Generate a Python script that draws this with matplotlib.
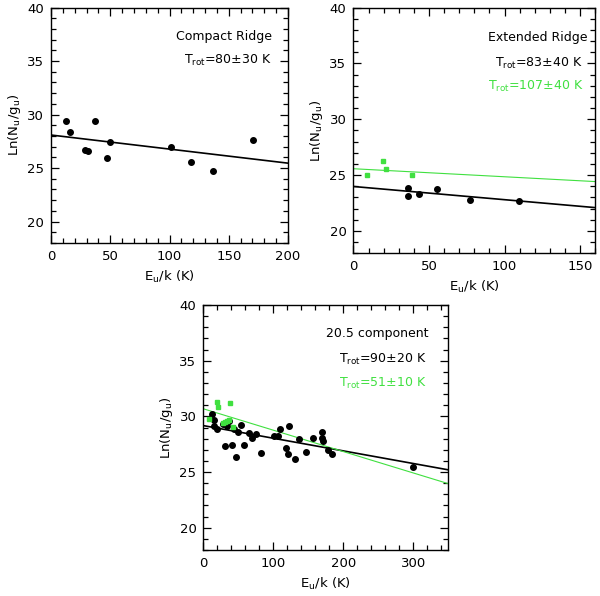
import matplotlib
matplotlib.use("Agg")
import matplotlib.pyplot as plt
from matplotlib.ticker import MultipleLocator

# --- Compact Ridge ---
cr_e = [12.6, 15.7, 28.9, 31.2, 37.1, 47.5, 49.4, 101.4, 118.5, 137.0, 170.5]
cr_ln = [29.4, 28.34, 26.67, 26.6, 29.4, 25.98, 27.4, 26.98, 25.6, 24.74, 27.66]
cr_fit = [28.09, 25.46]  # line value at E=0 and E=200

# --- Extended Ridge ---
er_e = [36.0, 36.4, 43.7, 55.6, 77.4, 109.6]
er_ln = [23.84, 23.11, 23.32, 23.78, 22.8, 22.66]
er_fit = [23.98, 22.09]  # E=0, E=160
er_green_e = [9.3, 19.5, 21.4, 39.0]
er_green_ln = [25.0, 26.24, 25.56, 25.02]
er_green_fit = [25.57, 24.42]  # E=0, E=160

# --- 20.5 component ---
c20_e = [12.8, 15.2, 15.2, 19.0, 28.0, 30.7, 33.2, 36.0, 41.1, 43.9, 47.3, 49.6,
         54.4, 58.1, 64.8, 69.5, 75.7, 81.8, 100.6, 106.3, 109.9, 118.2, 120.4,
         121.9, 131.4, 136.0, 146.5, 156.9, 169.2, 170.0, 171.0, 178.6, 183.4, 300.0]
c20_ln = [30.2, 29.64, 29.18, 28.88, 29.3, 27.38, 29.17, 29.6, 27.46, 28.85, 26.36,
          28.56, 29.26, 27.43, 28.49, 28.06, 28.46, 26.75, 28.28, 28.26, 28.86,
          27.2, 26.66, 29.16, 26.17, 27.96, 26.84, 28.04, 28.61, 28.1, 27.79,
          26.97, 26.62, 25.41]
c20_fit = [29.17, 25.2]  # E=0, E=350
c20_green_e = [8.5, 19.0, 21.3, 37.8, 27.5, 30.7, 34.0, 36.4, 42.5]
c20_green_ln = [29.77, 31.27, 30.88, 31.22, 29.4, 29.5, 29.58, 29.68, 29.06]
c20_green_fit = [30.68, 23.96]  # E=0, E=350

GREEN = "#40e040"
FS = 9
TICK_FS = 9.5

fig = plt.figure(figsize=(6.0, 5.96), dpi=100)


def style_axes(ax, xmax, xmajor, xminor):
    ax.set_xlim(0, xmax)
    ax.set_ylim(18, 40)
    ax.xaxis.set_major_locator(MultipleLocator(xmajor))
    ax.xaxis.set_minor_locator(MultipleLocator(xminor))
    ax.yaxis.set_minor_locator(MultipleLocator(1))
    ax.set_yticks([20, 25, 30, 35, 40])
    ax.tick_params(which="both", direction="in", top=True, right=True,
                   labelsize=TICK_FS, width=0.9)
    ax.tick_params(which="major", length=6, pad=5)
    ax.tick_params(which="minor", length=3.5)
    for s in ax.spines.values():
        s.set_linewidth(1.0)
    ax.set_xlabel("E$_\\mathregular{u}$/k (K)", fontsize=FS + 0.5, labelpad=4)
    ax.set_ylabel("Ln(N$_\\mathregular{u}$/g$_\\mathregular{u}$)", fontsize=FS + 0.5,
                  labelpad=3)


# Panel 1: Compact Ridge
ax1 = fig.add_axes([0.085, 0.5923, 0.395, 0.395])
style_axes(ax1, 200, 50, 10)
ax1.plot([0, 200], cr_fit, color="black", lw=1.2)
ax1.plot(cr_e, cr_ln, "o", color="black", ms=4.0)
ax1.text(0.932, 0.879, "Compact Ridge", transform=ax1.transAxes,
         ha="right", va="center", fontsize=FS)
ax1.text(0.932, 0.774, "T$_\\mathregular{rot}$=80±30 K", transform=ax1.transAxes,
         ha="right", va="center", fontsize=FS)

# Panel 2: Extended Ridge
ax2 = fig.add_axes([0.589, 0.575, 0.403, 0.4124])
style_axes(ax2, 160, 50, 10)
ax2.plot([0, 160], er_fit, color="black", lw=1.2)
ax2.plot([0, 160], er_green_fit, color=GREEN, lw=0.8)
ax2.plot(er_e, er_ln, "o", color="black", ms=4.0)
ax2.plot(er_green_e, er_green_ln, "s", color=GREEN, ms=3.2)
ax2.text(0.968, 0.879, "Extended Ridge", transform=ax2.transAxes,
         ha="right", va="center", fontsize=FS)
ax2.text(0.95, 0.773, "T$_\\mathregular{rot}$=83±40 K", transform=ax2.transAxes,
         ha="right", va="center", fontsize=FS)
ax2.text(0.952, 0.68, "T$_\\mathregular{rot}$=107±40 K", transform=ax2.transAxes,
         ha="right", va="center", fontsize=FS, color=GREEN)

# Panel 3: 20.5 component
ax3 = fig.add_axes([0.339, 0.0772, 0.408, 0.411])
style_axes(ax3, 350, 100, 20)
ax3.plot([0, 350], c20_fit, color="black", lw=1.2)
ax3.plot([0, 350], c20_green_fit, color=GREEN, lw=0.8)
ax3.plot(c20_e, c20_ln, "o", color="black", ms=4.0)
ax3.plot(c20_green_e, c20_green_ln, "s", color=GREEN, ms=3.2)
ax3.text(0.919, 0.884, "20.5 component", transform=ax3.transAxes,
         ha="right", va="center", fontsize=FS)
ax3.text(0.913, 0.776, "T$_\\mathregular{rot}$=90±20 K", transform=ax3.transAxes,
         ha="right", va="center", fontsize=FS)
ax3.text(0.913, 0.68, "T$_\\mathregular{rot}$=51±10 K", transform=ax3.transAxes,
         ha="right", va="center", fontsize=FS, color=GREEN)

fig.savefig("out.png", dpi=100)
